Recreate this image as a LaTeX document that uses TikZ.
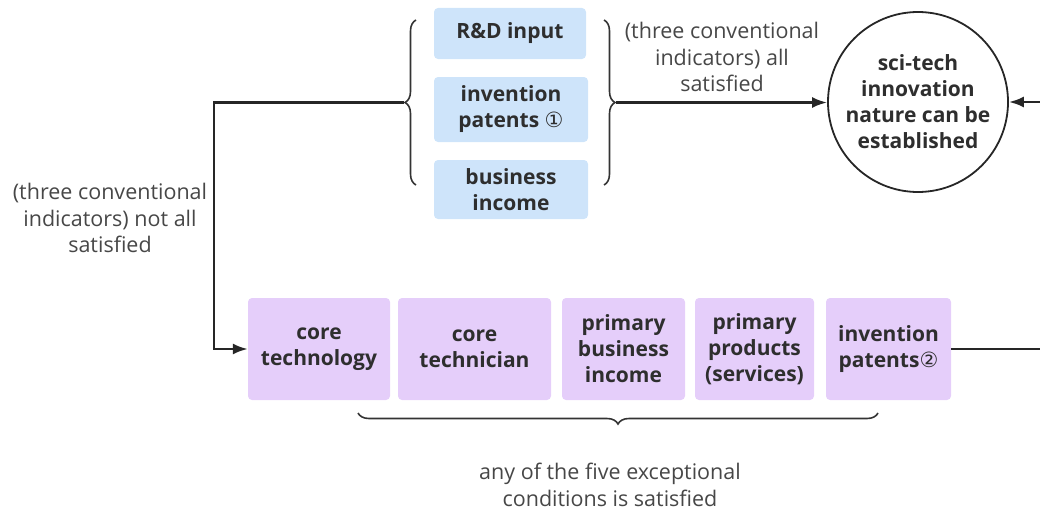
\documentclass[tikz,border=0pt]{standalone}
\usepackage{fontspec}
\setmainfont{Open Sans}
\newfontfamily\circfont{DejaVu Sans}
\usepackage{tikz}
\usetikzlibrary{arrows.meta, positioning, calc, decorations.pathreplacing}

\begin{document}
\begin{tikzpicture}[x=1pt, y=-1pt,
    box/.style={rounded corners=4pt, inner sep=0pt, align=center, text=black!82,
        font=\fontsize{21}{26}\selectfont\bfseries},
    blue box/.style={box, fill=boxblue},
    violet box/.style={box, fill=boxviolet, minimum height=102pt},
    lbl/.style={align=center, text=black!72, font=\fontsize{21.5}{26.5}\selectfont},
    arr/.style={draw=black!85, line width=2.4pt, -{Latex[length=15pt,width=11pt]}},
    brc/.style={draw=black!80, line width=1.6pt, decorate, decoration={brace, amplitude=11pt}}]
    % Màu
    \definecolor{boxblue}{RGB}{206,228,250}
    \definecolor{boxviolet}{RGB}{229,206,250}

    % Khung
    \useasboundingbox (0,0) rectangle (1040,511);

    % Ba chỉ tiêu thông thường
    \node[blue box, minimum width=152pt, minimum height=51pt] (rd) at (510,33.5) {R\&D input};
    \node[blue box, minimum width=154pt, minimum height=65pt] (inv1) at (511,109.5) {invention\\patents {\circfont\mdseries ①}};
    \node[blue box, minimum width=154pt, minimum height=59pt] (bus) at (511,189.5) {business\\income};

    % Ngoặc hai bên
    \draw[brc] (416,185) -- (416,20);
    \draw[brc] (604,20) -- (604,185);
    \coordinate (lb) at (404,102.5);
    \coordinate (rb) at (616,102.5);

    % Kết quả
    \node[circle, draw=black!85, line width=1.8pt, minimum size=180pt, inner sep=0pt, align=center,
        text=black!82, font=\fontsize{21}{26}\selectfont\bfseries] (res) at (918,102)
        {sci-tech\\innovation\\nature can be\\established};
    \node[lbl] (all) at (722,57) {(three conventional\\indicators) all\\satisfied};
    \draw[arr] (rb) -- (res.west |- rb);

    % Năm điều kiện ngoại lệ
    \node[violet box, minimum width=142pt] (c1) at (319,349) {core\\technology};
    \node[violet box, minimum width=153pt] (c2) at (474.5,349) {core\\technician};
    \node[violet box, minimum width=123pt] (c3) at (623.5,349) {primary\\business\\income};
    \node[violet box, minimum width=119pt] (c4) at (754.5,349) {primary\\products\\(services)};
    \node[violet box, minimum width=125pt] (c5) at (888.5,349) {invention\\patents{\circfont\mdseries ②}};

    % Nhánh không thỏa mãn
    \node[lbl] (notall) at (110,218) {(three conventional\\indicators) not all\\satisfied};
    \coordinate (turn) at (214,102.5);
    \draw[arr] (lb) -- (turn) |- (c1.west);

    % Nhánh bên phải (ra ngoài khung)
    \coordinate (re1) at (1046,349);
    \coordinate (re2) at (1046,102);
    \draw[arr] (c5.east) -- (re1) -- (re2) -- (res.east);

    % Ngoặc dưới
    \draw[brc] (878,413) -- (358,413);
    \node[lbl] (any) at (610,485) {any of the five exceptional\\conditions is satisfied};
\end{tikzpicture}
\end{document}
